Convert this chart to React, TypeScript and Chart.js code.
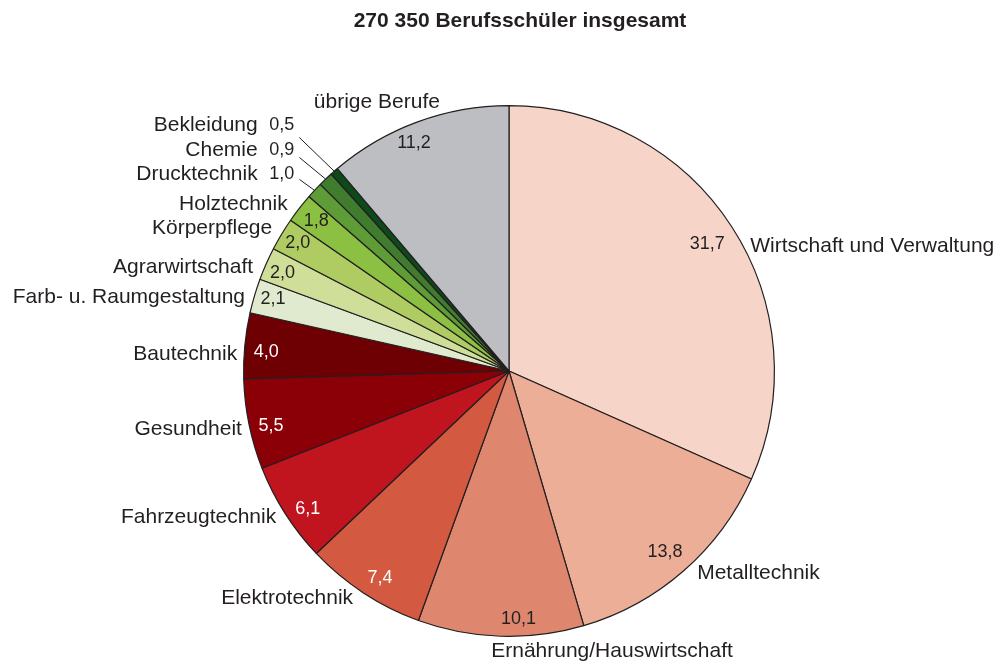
import React, { useEffect, useRef } from "react";
import { Chart, registerables } from "chart.js";

Chart.register(...registerables);

const TITLE = "270 350 Berufsschüler insgesamt";

const categories = [
  "Wirtschaft und Verwaltung",
  "Metalltechnik",
  "Ernährung/Hauswirtschaft",
  "Elektrotechnik",
  "Fahrzeugtechnik",
  "Gesundheit",
  "Bautechnik",
  "Farb- u. Raumgestaltung",
  "Agrarwirtschaft",
  "Körperpflege",
  "Holztechnik",
  "Drucktechnik",
  "Chemie",
  "Bekleidung",
  "übrige Berufe",
];

const shares = [31.7, 13.8, 10.1, 7.4, 6.1, 5.5, 4.0, 2.1, 2.0, 2.0, 1.8, 1.0, 0.9, 0.5, 11.2];

const sliceColors = [
  "#F6D5C8",
  "#EDAE98",
  "#DF876E",
  "#D35A40",
  "#C0141E",
  "#8B0006",
  "#6E0003",
  "#DFEACF",
  "#CFDE98",
  "#AFCC62",
  "#8BC043",
  "#5E9C37",
  "#3F7C2E",
  "#0D4A1A",
  "#BDBEC2",
];

const valueTextColors = [
  "#231f20", "#231f20", "#231f20", "#ffffff", "#ffffff", "#ffffff", "#ffffff",
  "#231f20", "#231f20", "#231f20", "#231f20", "#231f20", "#231f20", "#231f20", "#231f20",
];

// label placement relative to each arc: angle offset (deg, clockwise) from mid angle,
// radius factor, alignment. "stack" = stacked row with leader line (values in r units)
type NameLayout =
  | { mode: "polar"; da: number; rf: number; align: CanvasTextAlign }
  | { mode: "stack"; nameX: number; valX: number; rowY: number; lead: number };

const nameLayout: NameLayout[] = [
  { mode: "polar", da: 5.6, rf: 1.024, align: "left" },
  { mode: "polar", da: -1.7, rf: 1.042, align: "left" },
  { mode: "polar", da: -22, rf: 1.124, align: "center" },
  { mode: "polar", da: 1.2, rf: 1.038, align: "right" },
  { mode: "polar", da: 0.4, rf: 1.035, align: "right" },
  { mode: "polar", da: -0.7, rf: 1.03, align: "right" },
  { mode: "polar", da: -2, rf: 1.026, align: "right" },
  { mode: "polar", da: -0.8, rf: 1.033, align: "right" },
  { mode: "polar", da: -1.8, rf: 1.04, align: "right" },
  { mode: "polar", da: 0, rf: 1.041, align: "right" },
  { mode: "polar", da: -0.8, rf: 1.045, align: "right" },
  { mode: "stack", nameX: -0.947, valX: -0.903, rowY: -0.741, lead: 5 },
  { mode: "stack", nameX: -0.947, valX: -0.903, rowY: -0.831, lead: 7 },
  { mode: "stack", nameX: -0.947, valX: -0.903, rowY: -0.925, lead: 12 },
  { mode: "polar", da: -6, rf: 1.13, align: "center" },
];

const valueLayout: { da: number; rf: number }[] = [
  { da: 0.4, rf: 0.887 },
  { da: 0.4, rf: 0.9 },
  { da: -4, rf: 0.936 },
  { da: -1.4, rf: 0.92 },
  { da: -2, rf: 0.92 },
  { da: -1.4, rf: 0.92 },
  { da: -1.1, rf: 0.917 },
  { da: 0.5, rf: 0.93 },
  { da: -0.4, rf: 0.93 },
  { da: 0.1, rf: 0.93 },
  { da: 0, rf: 0.92 },
  { da: 0, rf: 0 },
  { da: 0, rf: 0 },
  { da: 0, rf: 0 },
  { da: -2.5, rf: 0.93 },
];

const FONT = '"Liberation Sans", Arial, Helvetica, sans-serif';
const TEXT = "#231f20";

const fmt = (v: number) => v.toFixed(1).replace(".", ",");

const labelPlugin = {
  id: "pieLabels",
  afterDatasetsDraw(chart: any) {
    const ctx: CanvasRenderingContext2D = chart.ctx;
    const meta = chart.getDatasetMeta(0);
    ctx.save();
    // title
    ctx.font = `bold 21px ${FONT}`;
    ctx.fillStyle = TEXT;
    ctx.textAlign = "center";
    ctx.textBaseline = "middle";
    ctx.fillText(TITLE, 520, 21);

    meta.data.forEach((arc: any, i: number) => {
      const { x, y, startAngle, endAngle, outerRadius } = arc.getProps(
        ["x", "y", "startAngle", "endAngle", "outerRadius"],
        true
      );
      const r = outerRadius;
      const mid = (startAngle + endAngle) / 2;
      const nl = nameLayout[i];
      ctx.textBaseline = "middle";
      if (nl.mode === "polar") {
        const a = mid + (nl.da * Math.PI) / 180;
        const px = x + Math.cos(a) * r * nl.rf;
        const py = y + Math.sin(a) * r * nl.rf;
        ctx.font = `21px ${FONT}`;
        ctx.fillStyle = TEXT;
        ctx.textAlign = nl.align;
        ctx.fillText(categories[i], px, py);

        const vl = valueLayout[i];
        const va = mid + (vl.da * Math.PI) / 180;
        const vx = x + Math.cos(va) * r * vl.rf;
        const vy = y + Math.sin(va) * r * vl.rf;
        ctx.font = `18px ${FONT}`;
        ctx.fillStyle = valueTextColors[i];
        ctx.textAlign = "center";
        ctx.fillText(fmt(shares[i]), vx, vy);
      } else {
        const ny = y + nl.rowY * r;
        ctx.font = `21px ${FONT}`;
        ctx.fillStyle = TEXT;
        ctx.textAlign = "right";
        ctx.fillText(categories[i], x + nl.nameX * r, ny);
        ctx.font = `18px ${FONT}`;
        ctx.textAlign = "left";
        const vx = x + nl.valX * r;
        const txt = fmt(shares[i]);
        ctx.fillText(txt, vx, ny);
        const w = ctx.measureText(txt).width;
        // leader line to arc edge
        const ex = x + Math.cos(mid) * r;
        const ey = y + Math.sin(mid) * r;
        ctx.strokeStyle = TEXT;
        ctx.lineWidth = 1;
        ctx.beginPath();
        ctx.moveTo(vx + w + 5, ny + nl.lead);
        ctx.lineTo(ex, ey);
        ctx.stroke();
      }
    });
    ctx.restore();
  },
};

export default function App() {
  const ref = useRef<HTMLCanvasElement | null>(null);
  useEffect(() => {
    if (!ref.current) return;
    const chart = new Chart(ref.current, {
      type: "pie",
      data: {
        labels: categories,
        datasets: [
          {
            data: shares,
            backgroundColor: sliceColors,
            borderColor: "#231f20",
            borderWidth: 1.2,
          },
        ],
      },
      options: {
        animation: false,
        responsive: false,
        events: [],
        layout: { padding: { left: 243, right: 228, top: 105, bottom: 29 } },
        plugins: {
          legend: { display: false },
          tooltip: { enabled: false },
          title: { display: false },
        },
      },
      plugins: [labelPlugin],
    });
    return () => chart.destroy();
  }, []);
  return (
    <div style={{ position: "fixed", left: 0, top: 0, width: 1003, height: 666, background: "#fff" }}>
      <canvas ref={ref} width={1003} height={666} style={{ width: 1003, height: 666, display: "block" }} />
    </div>
  );
}
